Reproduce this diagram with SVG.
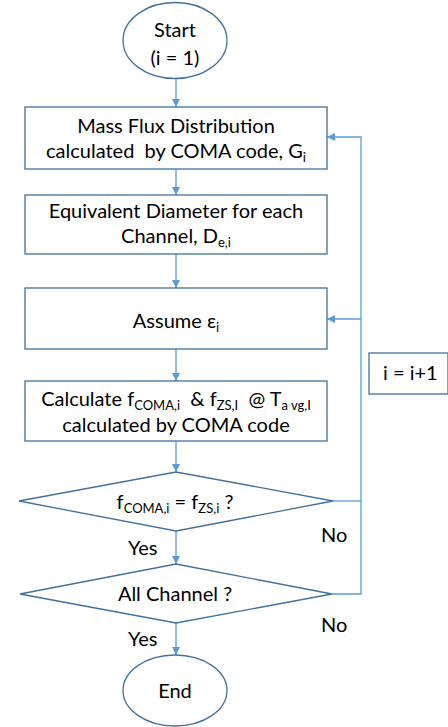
<svg xmlns="http://www.w3.org/2000/svg" width="448" height="727" viewBox="0 0 448 727">
<style>
.shape{fill:#fff;stroke:#41719C;stroke-width:1.3}
.conn{fill:none;stroke:#5B9BD5;stroke-width:1.3}
text{font-family:Lato,"Liberation Sans",sans-serif;font-size:20px;fill:#000;white-space:pre}
.m{text-anchor:middle}
.s{font-size:13px}
</style>
<defs>
<marker id="ah" markerWidth="8" markerHeight="8" refX="8" refY="4" orient="auto" markerUnits="userSpaceOnUse">
<path d="M0,0 L8,4 L0,8 Z" fill="#5B9BD5"/>
</marker>
</defs>
<rect width="448" height="727" fill="#fff"/>
<g id="connectors">
<line class="conn" x1="176" y1="79" x2="176" y2="107" marker-end="url(#ah)"/>
<line class="conn" x1="176" y1="169" x2="176" y2="195" marker-end="url(#ah)"/>
<line class="conn" x1="176" y1="254" x2="176" y2="288" marker-end="url(#ah)"/>
<line class="conn" x1="176" y1="349" x2="176" y2="381" marker-end="url(#ah)"/>
<line class="conn" x1="176" y1="441" x2="176" y2="472" marker-end="url(#ah)"/>
<line class="conn" x1="176" y1="531" x2="176" y2="564" marker-end="url(#ah)"/>
<line class="conn" x1="176" y1="623" x2="176" y2="655" marker-end="url(#ah)"/>
<polyline class="conn" points="333,501 361,501"/>
<polyline class="conn" points="332,594 361,594 361,137 327,137" marker-end="url(#ah)"/>
<polyline class="conn" points="361,319 327,319" marker-end="url(#ah)"/>
<text x="321" y="542">No</text>
<text x="321" y="632">No</text>
<text x="128" y="555">Yes</text>
<text x="128" y="646">Yes</text>
</g>
<g id="start">
<ellipse class="shape" cx="175" cy="40.5" rx="52" ry="38"/>
<text class="m" x="175" y="37">Start</text>
<text class="m" x="175" y="65">(i = 1)</text>
</g>
<g id="massflux">
<rect class="shape" x="25" y="107" width="302" height="62"/>
<text class="m" x="176" y="133">Mass Flux Distribution</text>
<text class="m" x="176" y="158">calculated  by COMA code, G<tspan class="s" dy="4">i</tspan></text>
</g>
<g id="diameter">
<rect class="shape" x="25" y="195" width="302" height="59"/>
<text class="m" x="176" y="218">Equivalent Diameter for each</text>
<text class="m" x="176" y="243">Channel, D<tspan class="s" dy="4">e,i</tspan></text>
</g>
<g id="assume">
<rect class="shape" x="25" y="288" width="302" height="61"/>
<text class="m" x="176" y="328">Assume ε<tspan class="s" dy="4">i</tspan></text>
</g>
<g id="calculate">
<rect class="shape" x="25" y="381" width="302" height="60"/>
<text class="m" x="176" y="406">Calculate f<tspan class="s" dy="4">COMA,i</tspan><tspan dy="-4">  &amp; f</tspan><tspan class="s" dy="4">ZS,I</tspan><tspan dy="-4">  @ T</tspan><tspan class="s" dy="4">a vg,I</tspan></text>
<text class="m" x="176" y="432">calculated by COMA code</text>
</g>
<g id="decision1">
<polygon class="shape" points="176,472 333,501 176,531 19,501"/>
<text class="m" x="175" y="509">f<tspan class="s" dy="4">COMA,i</tspan><tspan dy="-4"> = f</tspan><tspan class="s" dy="4">ZS,i</tspan><tspan dy="-4"> ?</tspan></text>
</g>
<g id="decision2">
<polygon class="shape" points="176,564 332,594 176,623 20,594"/>
<text class="m" x="175" y="601">All Channel ?</text>
</g>
<g id="end">
<ellipse class="shape" cx="175" cy="690.5" rx="52" ry="35.5"/>
<text class="m" x="175" y="698">End</text>
</g>
<g id="increment">
<rect class="shape" x="369" y="353" width="79" height="41"/>
<text x="383" y="380">i = i+1</text>
</g>
</svg>
